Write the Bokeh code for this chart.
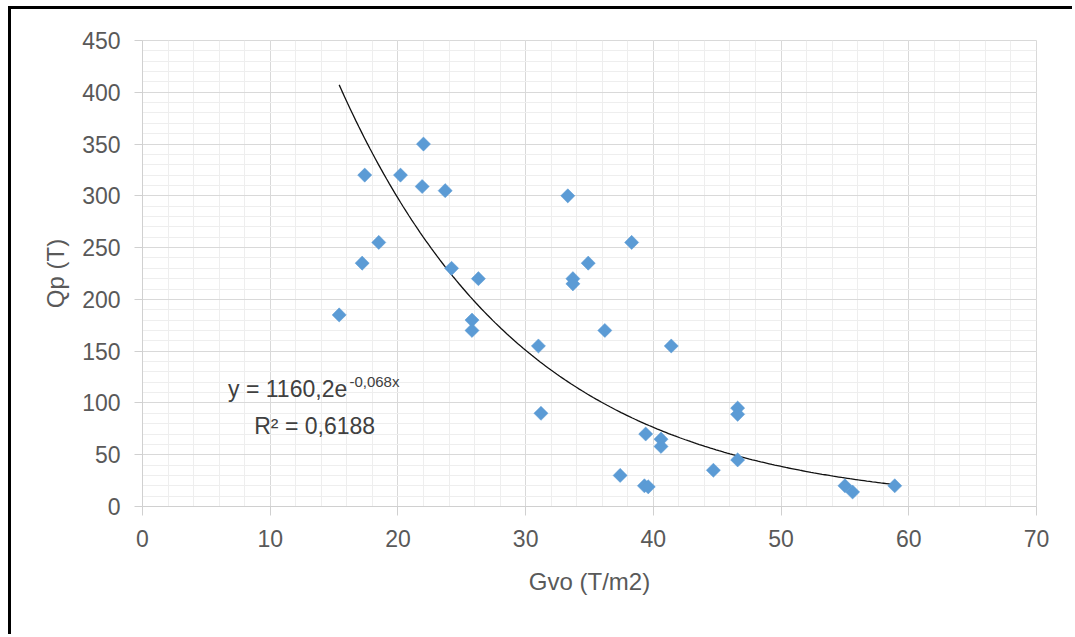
import math
from bokeh.plotting import figure
from bokeh.models import Range1d, SingleIntervalTicker, Label, ColumnDataSource
from bokeh.embed import file_html
from bokeh.resources import INLINE

# Data
gvo = [15.4, 17.2, 17.4, 18.5, 20.2, 21.9, 22.0, 23.7, 24.2, 25.8, 25.8, 26.3,
       31.0, 31.2, 33.3, 33.7, 33.7, 34.9, 36.2, 37.4, 38.3, 39.4, 39.3, 39.6,
       40.6, 40.6, 41.4, 44.7, 46.6, 46.6, 46.6, 55.0, 55.6, 58.9]
qp = [185, 235, 320, 255, 320, 309, 350, 305, 230, 180, 170, 220,
      155, 90, 300, 220, 215, 235, 170, 30, 255, 70, 20, 19,
      65, 58, 155, 35, 95, 89, 45, 20, 14, 20]

# Exponential trendline y = a * e^(b x) as given on the chart
trend_a = 1160.2
trend_b = -0.068
trend_x_start = 15.4
trend_x_end = 58.9

x_label = "Gvo (T/m2)"
y_label = "Qp (T)"
eq_main = "y = 1160,2e"
eq_exp = "-0,068x"
r2_text = "R\u00b2 = 0,6188"

FONT = "Liberation Sans"
GRAY = "#595959"

p = figure(width=1064, height=628, output_backend="svg", toolbar_location=None,
           x_range=Range1d(0, 70), y_range=Range1d(0, 450),
           min_border_left=131, min_border_right=39, min_border_top=31, min_border_bottom=131)
p.styles = {"margin-left": "8px", "margin-top": "6px",
            "border-left": "3px solid #000000", "border-top": "3px solid #000000"}
p.background_fill_color = "white"
p.border_fill_color = "white"
p.outline_line_color = "#d9d9d9"

p.xaxis.ticker = SingleIntervalTicker(interval=10, num_minor_ticks=5)
p.yaxis.ticker = SingleIntervalTicker(interval=50, num_minor_ticks=5)

for ax in (p.xaxis, p.yaxis):
    ax.axis_line_color = "#d0d0d0"
    ax.major_tick_line_color = "#d0d0d0"
    ax.minor_tick_line_color = None
    ax.major_label_text_font = FONT
    ax.major_label_text_font_size = "23px"
    ax.major_label_text_color = GRAY
    ax.axis_label_text_font = FONT
    ax.axis_label_text_font_size = "24px"
    ax.axis_label_text_font_style = "normal"
    ax.axis_label_text_color = GRAY
    ax.major_label_standoff = 14

p.xaxis.major_tick_out = 9
p.xaxis.major_tick_in = 0
p.yaxis.major_tick_out = 8
p.yaxis.major_tick_in = 0
p.xaxis.axis_label = x_label
p.yaxis.axis_label = y_label
p.xaxis.axis_label_standoff = 18
p.yaxis.axis_label_standoff = 10

p.xgrid.grid_line_color = "#d9d9d9"
p.ygrid.grid_line_color = "#d9d9d9"
p.xgrid.minor_grid_line_color = "#eeeeee"
p.ygrid.minor_grid_line_color = "#eeeeee"

# Trendline
n = 200
tx = [trend_x_start + (trend_x_end - trend_x_start) * i / (n - 1) for i in range(n)]
ty = [trend_a * math.exp(trend_b * x) for x in tx]
p.line(tx, ty, line_color="#111111", line_width=1.3)

# Points
src = ColumnDataSource(dict(x=gvo, y=qp))
p.scatter("x", "y", source=src, marker="square", size=10, angle=math.pi / 4,
          fill_color="#5B9BD5", line_color="#5B9BD5", line_width=0.5)

# Equation labels
p.add_layout(Label(x=6.7, y=113.5, text=eq_main, text_font=FONT, text_font_size="23px",
                   text_color="#404040", text_baseline="alphabetic", text_align="left"))
p.add_layout(Label(x=16.2, y=121, text=eq_exp, text_font=FONT, text_font_size="15px",
                   text_color="#404040", text_baseline="alphabetic", text_align="left"))
p.add_layout(Label(x=8.75, y=78, text=r2_text, text_font=FONT, text_font_size="23px",
                   text_color="#404040", text_baseline="alphabetic", text_align="left"))

open("out.html", "w").write(file_html(p, INLINE))
